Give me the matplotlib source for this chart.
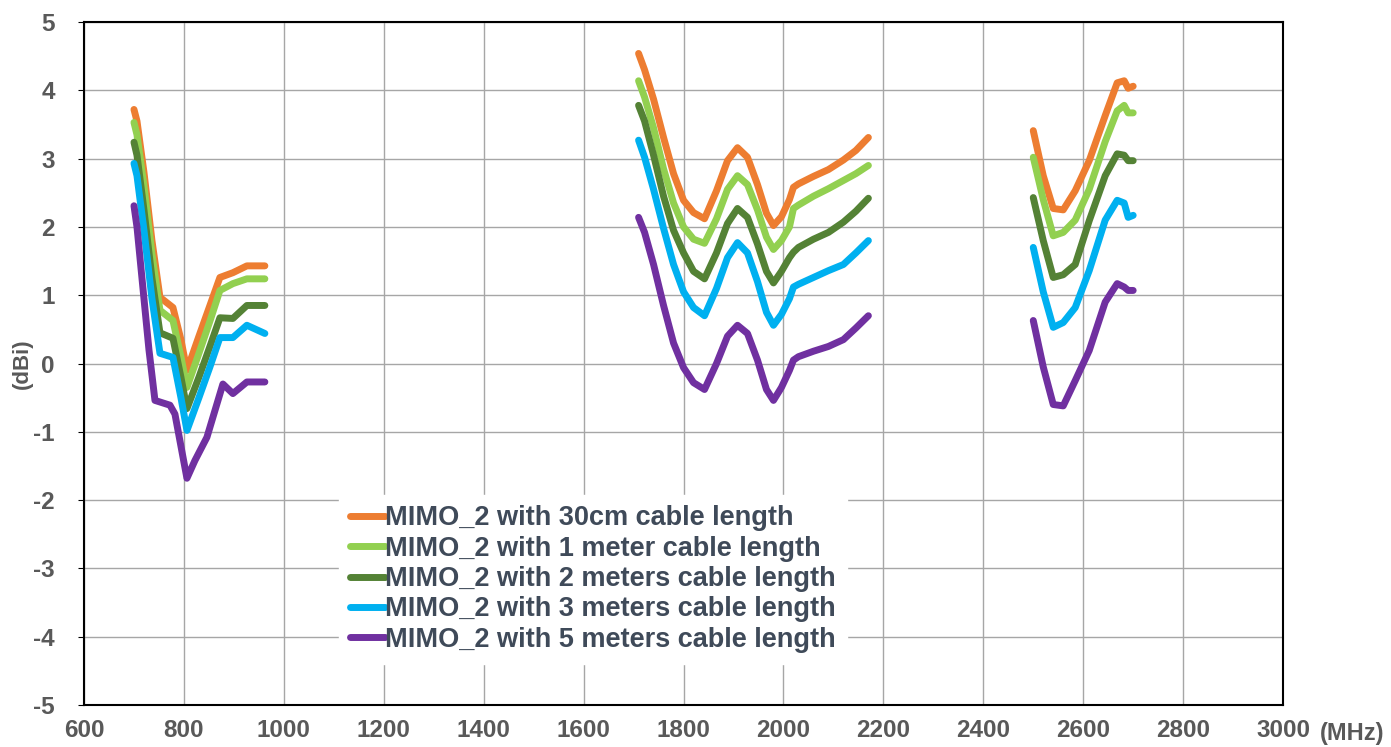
import numpy as np
import matplotlib.pyplot as plt

plt.rcParams['font.family'] = ['Liberation Sans', 'DejaVu Sans']
plt.rcParams['axes.unicode_minus'] = False

# band 1 (LTE 700/800/900)
f1 = [700, 706, 720, 736, 752, 778, 794, 806, 830, 852, 872, 898, 926, 962]
g1_30cm = [3.72, 3.55, 2.80, 1.80, 0.97, 0.82, 0.35, -0.10, 0.40, 0.85, 1.26, 1.33, 1.43, 1.43]
g1_1m = [3.53, 3.35, 2.60, 1.60, 0.78, 0.63, 0.10, -0.35, 0.15, 0.62, 1.07, 1.17, 1.24, 1.24]
g1_2m = [3.24, 3.05, 2.25, 1.25, 0.45, 0.37, -0.20, -0.66, -0.20, 0.25, 0.67, 0.66, 0.85, 0.85]
g1_3m = [2.93, 2.75, 1.95, 0.95, 0.15, 0.09, -0.50, -0.98, -0.50, -0.05, 0.38, 0.38, 0.56, 0.44]
f1_5m = [700, 706, 718, 730, 742, 772, 782, 806, 822, 846, 878, 898, 926, 962]
g1_5m = [2.31, 2.00, 1.10, 0.20, -0.54, -0.61, -0.74, -1.68, -1.42, -1.08, -0.30, -0.44, -0.27, -0.27]

# band 2 (1710-2170)
f2 = [1710, 1722, 1740, 1760, 1780, 1800, 1820, 1842, 1866, 1888, 1908, 1928,
      1948, 1966, 1980, 1996, 2012, 2020, 2030, 2060, 2090, 2120, 2145, 2170]
g2_30cm = [4.54, 4.30, 3.87, 3.31, 2.78, 2.39, 2.21, 2.12, 2.53, 2.97, 3.16, 3.02,
           2.62, 2.20, 2.02, 2.15, 2.40, 2.58, 2.63, 2.74, 2.84, 2.98, 3.12, 3.31]
g2_1m = [4.14, 3.90, 3.45, 2.85, 2.35, 2.00, 1.82, 1.76, 2.12, 2.55, 2.75, 2.62,
         2.25, 1.85, 1.67, 1.80, 2.00, 2.27, 2.32, 2.45, 2.56, 2.68, 2.78, 2.90]
g2_2m = [3.78, 3.55, 3.05, 2.45, 1.95, 1.62, 1.35, 1.24, 1.62, 2.05, 2.27, 2.14,
         1.75, 1.35, 1.18, 1.35, 1.55, 1.63, 1.70, 1.82, 1.92, 2.07, 2.23, 2.42]
g2_3m = [3.27, 3.02, 2.55, 1.98, 1.45, 1.05, 0.82, 0.70, 1.10, 1.55, 1.77, 1.62,
         1.20, 0.75, 0.56, 0.72, 0.95, 1.12, 1.16, 1.26, 1.36, 1.45, 1.62, 1.80]
g2_5m = [2.14, 1.92, 1.45, 0.85, 0.30, -0.06, -0.28, -0.38, 0.00, 0.40, 0.56, 0.44,
         0.05, -0.38, -0.54, -0.35, -0.10, 0.05, 0.10, 0.18, 0.25, 0.35, 0.52, 0.70]

# band 3 (2500-2700)
f3 = [2500, 2520, 2540, 2560, 2584, 2612, 2644, 2668, 2682, 2690, 2700]
g3_30cm = [3.41, 2.75, 2.27, 2.25, 2.53, 2.97, 3.63, 4.11, 4.14, 4.03, 4.06]
g3_1m = [3.02, 2.40, 1.87, 1.92, 2.10, 2.55, 3.25, 3.70, 3.78, 3.67, 3.67]
g3_2m = [2.43, 1.80, 1.26, 1.30, 1.45, 2.09, 2.75, 3.07, 3.05, 2.97, 2.97]
g3_3m = [1.70, 1.05, 0.53, 0.60, 0.82, 1.36, 2.10, 2.39, 2.35, 2.14, 2.17]
g3_5m = [0.63, -0.05, -0.60, -0.62, -0.25, 0.19, 0.90, 1.17, 1.12, 1.07, 1.07]

labels = ["MIMO_2 with 30cm cable length",
          "MIMO_2 with 1 meter cable length",
          "MIMO_2 with 2 meters cable length",
          "MIMO_2 with 3 meters cable length",
          "MIMO_2 with 5 meters cable length"]
colors = ["#ED7D31", "#92D050", "#548235", "#00B0F0", "#7030A0"]

series = [
    (f1, g1_30cm, f2, g2_30cm, f3, g3_30cm),
    (f1, g1_1m, f2, g2_1m, f3, g3_1m),
    (f1, g1_2m, f2, g2_2m, f3, g3_2m),
    (f1, g1_3m, f2, g2_3m, f3, g3_3m),
    (f1_5m, g1_5m, f2, g2_5m, f3, g3_5m),
]

fig = plt.figure(figsize=(13.91, 7.47), dpi=100)
ax = fig.add_axes([0.0604, 0.0562, 0.862, 0.9143])

for (xa, ya, xb, yb, xc, yc), lab, col in zip(series, labels, colors):
    kw = dict(color=col, lw=5, solid_capstyle='round', solid_joinstyle='round')
    ax.plot(xa, ya, label=lab, **kw)
    ax.plot(xb, yb, **kw)
    ax.plot(xc, yc, **kw)

ax.set_xlim(600, 3000)
ax.set_ylim(-5, 5)
ax.set_xticks(np.arange(600, 3001, 200))
ax.set_yticks(np.arange(-5, 6, 1))
ax.grid(True, color="#A6A6A6", lw=1)
ax.set_axisbelow(True)
for s in ax.spines.values():
    s.set_color("black")
    s.set_linewidth(1.5)

tick_col = "#595959"
ax.tick_params(axis='y', length=4, direction='out', labelsize=17.5, labelcolor=tick_col, pad=17)
ax.tick_params(axis='x', length=0, labelsize=17.5, labelcolor=tick_col, pad=10)
for t in ax.get_xticklabels() + ax.get_yticklabels():
    t.set_fontweight('bold')

ax.set_ylabel("(dBi)", fontsize=16, fontweight='bold', color=tick_col, labelpad=0)
ax.text(1.031, -0.041, "(MHz)", transform=ax.transAxes, fontsize=17,
        fontweight='bold', color=tick_col, ha='left', va='center')

leg = ax.legend(loc='upper left', bbox_to_anchor=(0.213, 0.308), frameon=True,
                fontsize=19.5, handlelength=1.3, handletextpad=0.0,
                labelspacing=0.16, borderpad=0.4, borderaxespad=0)
leg.get_frame().set_facecolor("white")
leg.get_frame().set_edgecolor("white")
leg.get_frame().set_alpha(1)
for t in leg.get_texts():
    t.set_color("#3F4A59")
    t.set_fontweight('bold')

plt.savefig("out.png", dpi=100)
